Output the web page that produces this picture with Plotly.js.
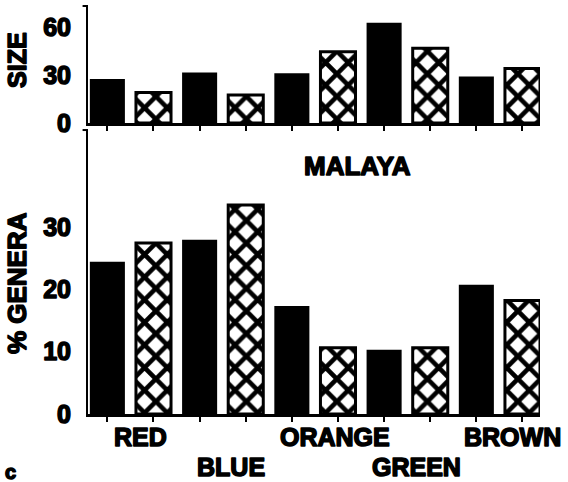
<!DOCTYPE html>
<html>
<head>
<meta charset="utf-8">
<script src="https://cdn.plot.ly/plotly-3.0.1.min.js"></script>
<style>
  html, body { margin: 0; padding: 0; background: #fff; }
  #chart { width: 568px; height: 482px; }
  #chart text { stroke: #000; stroke-width: 1.5px; stroke-linejoin: round; }
</style>
</head>
<body>
<div id="chart"></div>
<script>
// ---- data ----
const categories = ['RED', 'BLUE', 'ORANGE', 'GREEN', 'BROWN'];
const sizeSolid   = [27.5, 31.5, 31, 62.5, 29];
const sizeHatched = [19, 17.5, 44.5, 46.7, 34];
const generaSolid   = [24.4, 27.9, 17.3, 10.3, 20.7];
const generaHatched = [27.4, 33.5, 10.6, 10.6, 18.2];
const sizeTicks   = [0, 30, 60];
const generaTicks = [0, 10, 20, 30];

// ---- positions: solid bar at 2i, hatched bar at 2i+1 ----
const xSolid   = categories.map((c, i) => 2 * i);
const xHatched = categories.map((c, i) => 2 * i + 1);
const allTicks = xSolid.concat(xHatched).sort((a, b) => a - b);

const FONT = 'Liberation Sans, Arial, Helvetica, sans-serif';
const BW = 0.76;

const solidMarker = { color: '#000', line: { width: 0 } };
const hatchMarker = {
  color: '#fff',
  line: { color: '#000', width: 3 },
  pattern: { shape: 'x', fgcolor: '#000', bgcolor: '#fff', size: 16, solidity: 0.5, fillmode: 'replace' }
};

const traces = [
  { type: 'bar', x: xSolid, y: sizeSolid, width: BW, marker: solidMarker, xaxis: 'x2', yaxis: 'y2', showlegend: false, hoverinfo: 'skip' },
  { type: 'bar', x: xHatched, y: sizeHatched, width: BW, marker: hatchMarker, xaxis: 'x2', yaxis: 'y2', showlegend: false, hoverinfo: 'skip' },
  { type: 'bar', x: xSolid, y: generaSolid, width: BW, marker: solidMarker, xaxis: 'x', yaxis: 'y', showlegend: false, hoverinfo: 'skip' },
  { type: 'bar', x: xHatched, y: generaHatched, width: BW, marker: hatchMarker, xaxis: 'x', yaxis: 'y', showlegend: false, hoverinfo: 'skip' }
];

const xBase = {
  range: [-0.42, 9.38],
  showgrid: false, zeroline: false,
  showline: true, linecolor: '#000', linewidth: 3,
  tickmode: 'array', tickvals: allTicks, ticks: 'outside', ticklen: 5, tickwidth: 2, tickcolor: '#000',
  showticklabels: false, fixedrange: true
};
const yBase = {
  showgrid: false, zeroline: false,
  showline: true, linecolor: '#000', linewidth: 2,
  ticks: '', tickmode: 'array',
  tickfont: { family: FONT, size: 25, color: '#000', weight: 'bold' },
  ticklabelstandoff: 10, fixedrange: true
};

// category labels alternate between two rows
const labelShift = [10, 8, 20, 9, 13];
const annotations = categories.map((c, i) => ({
  text: c, xref: 'x', yref: 'paper',
  x: 2 * i + 0.5, y: i % 2 === 0 ? -0.056 : -0.130,
  xshift: labelShift[i],
  xanchor: 'center', yanchor: 'middle', showarrow: false,
  font: { family: FONT, size: 25, color: '#000', weight: 'bold' }
}));
annotations.push(
  { text: 'SIZE', xref: 'paper', yref: 'paper', x: -0.157, y: 0.868, textangle: -90,
    xanchor: 'center', yanchor: 'middle', showarrow: false,
    font: { family: FONT, size: 25, color: '#000', weight: 'bold' } },
  { text: '% GENERA', xref: 'paper', yref: 'paper', x: -0.157, y: 0.321, textangle: -90,
    xanchor: 'center', yanchor: 'middle', showarrow: false,
    font: { family: FONT, size: 26, color: '#000', weight: 'bold' } },
  { text: 'MALAYA', xref: 'paper', yref: 'paper', x: 0.597, y: 0.608,
    xanchor: 'center', yanchor: 'middle', showarrow: false,
    font: { family: FONT, size: 26, color: '#000', weight: 'bold' } },
  { text: 'c', xref: 'paper', yref: 'paper', x: -0.171, y: -0.142,
    xanchor: 'center', yanchor: 'middle', showarrow: false,
    font: { family: FONT, size: 20, color: '#000', weight: 'bold' } }
);

// small cap ticks at the top of each y axis
const shapes = ['y', 'y2'].map(ax => ({
  type: 'line', xref: 'x domain', yref: ax + ' domain',
  x0: -0.012, x1: 0, y0: 1, y1: 1,
  line: { color: '#000', width: 2 }
}));

const layout = {
  width: 568, height: 482,
  margin: { l: 88, r: 28, t: 6, b: 68 },
  paper_bgcolor: '#fff', plot_bgcolor: '#fff',
  barmode: 'overlay',
  font: { family: FONT, color: '#000' },
  xaxis: Object.assign({}, xBase, { anchor: 'y' }),
  xaxis2: Object.assign({}, xBase, { anchor: 'y2', matches: 'x' }),
  yaxis: Object.assign({}, yBase, { domain: [0, 0.696], range: [0, 45.5], tickvals: generaTicks, anchor: 'x' }),
  yaxis2: Object.assign({}, yBase, { domain: [0.7132, 1], range: [0, 73], tickvals: sizeTicks, anchor: 'x2' }),
  annotations: annotations,
  shapes: shapes
};

Plotly.newPlot('chart', traces, layout, { staticPlot: true, displayModeBar: false });
</script>
</body>
</html>
